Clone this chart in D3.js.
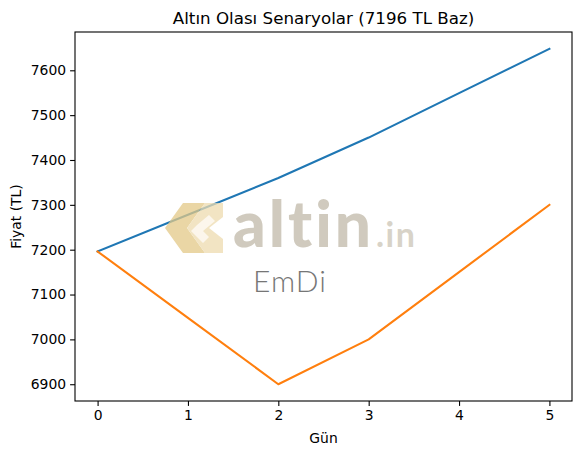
<!DOCTYPE html>
<html><head><meta charset="utf-8">
<script src="https://cdn.jsdelivr.net/npm/d3@7"></script>
<style>
html,body{margin:0;padding:0;background:#fff;}
svg{display:block;font-family:"DejaVu Sans",sans-serif;}
</style></head>
<body>
<svg id="chart" width="580" height="455"></svg>
<script>
const days = [0, 1, 2, 3, 4, 5];
const upScenario = [7196, 7278, 7360, 7450, 7549, 7648];
const downScenario = [7196, 7048, 6900, 7000, 7150, 7300];
const yTicks = [6900, 7000, 7100, 7200, 7300, 7400, 7500, 7600];
const xTicks = [0, 1, 2, 3, 4, 5];
const titleText = "Altın Olası Senaryolar (7196 TL Baz)";
const xLabel = "Gün";
const yLabel = "Fiyat (TL)";

const svg = d3.select("#chart");
const L = 75, R = 572, T = 32, B = 401;

const allVals = upScenario.concat(downScenario);
const ymin = d3.min(allVals), ymax = d3.max(allVals);
const ypad = (ymax - ymin) * 0.05;
const x = d3.scaleLinear().domain([-0.25, 5.25]).range([L, R]);
const y = d3.scaleLinear().domain([ymin - ypad, ymax + ypad]).range([B, T]);

// lines
const line = d3.line().x((d, i) => x(days[i])).y(d => y(d));
const series = [{v: upScenario, c: "#1f77b4"}, {v: downScenario, c: "#ff7f0e"}];
svg.append("g").selectAll("path").data(series).join("path")
  .attr("d", d => line(d.v)).attr("fill", "none").attr("stroke", d => d.c)
  .attr("stroke-width", 2.08).attr("stroke-linejoin", "round").attr("stroke-linecap", "square");

// watermark
const wm = svg.append("g").attr("class", "watermark");
const icon = wm.append("g").attr("transform", "translate(165,203)").attr("opacity", 0.75);
icon.append("polygon").attr("points", "18,0 40,0 22,25 40,50 18,50 0,25").attr("fill", "#e3c987");
icon.append("polygon").attr("points", "40,0 58,0 58,14 44,25 58,36 58,50 40,50 22,25").attr("fill", "#eedcb0");
icon.append("polygon").attr("points", "32,22 44,12 50,18 38,28 44,34 38,40 26,28").attr("fill", "#fbf4e6");
wm.append("text").attr("x", 233).attr("y", 247).attr("font-family", "Lato").attr("font-weight", 900)
  .attr("font-size", 64).attr("letter-spacing", 3).attr("fill", "#cbc5b7").attr("opacity", 0.9).text("altin");
wm.append("text").attr("x", 376).attr("y", 247).attr("font-family", "Lato").attr("font-weight", 700)
  .attr("font-size", 34).attr("letter-spacing", 1.5).attr("fill", "#d8d3c8").text(".in");
wm.append("text").attr("x", 253).attr("y", 292).attr("font-family", "Lato").attr("font-weight", 300)
  .attr("font-size", 30).attr("letter-spacing", 1).attr("fill", "#767676").text("EmDi");

// axes
const xAxis = d3.axisBottom(x).tickValues(xTicks).tickFormat(d3.format("d")).tickSize(4.9).tickPadding(4);
const yAxis = d3.axisLeft(y).tickValues(yTicks).tickFormat(d3.format("d")).tickSize(4.9).tickPadding(4);
const gx = svg.append("g").attr("transform", `translate(0,${B})`).call(xAxis);
const gy = svg.append("g").attr("transform", `translate(${L},0)`).call(yAxis);
[gx, gy].forEach(g => {
  g.select(".domain").remove();
  g.selectAll(".tick line").attr("stroke", "#000").attr("stroke-width", 1.1);
  g.selectAll(".tick text").attr("font-family", "DejaVu Sans").attr("font-size", 13.9).attr("fill", "#000");
});
svg.append("rect").attr("x", L).attr("y", T).attr("width", R - L).attr("height", B - T)
  .attr("fill", "none").attr("stroke", "#000").attr("stroke-width", 1.1);

// labels
svg.append("text").attr("x", (L + R) / 2).attr("y", 24).attr("text-anchor", "middle")
  .attr("font-size", 16.7).attr("fill", "#000").text(titleText);
svg.append("text").attr("x", (L + R) / 2).attr("y", 443).attr("text-anchor", "middle")
  .attr("font-size", 13.9).attr("fill", "#000").text(xLabel);
svg.append("text").attr("transform", `translate(21,${(T + B) / 2}) rotate(-90)`).attr("text-anchor", "middle")
  .attr("font-size", 13.9).attr("fill", "#000").text(yLabel);
</script>
</body></html>
